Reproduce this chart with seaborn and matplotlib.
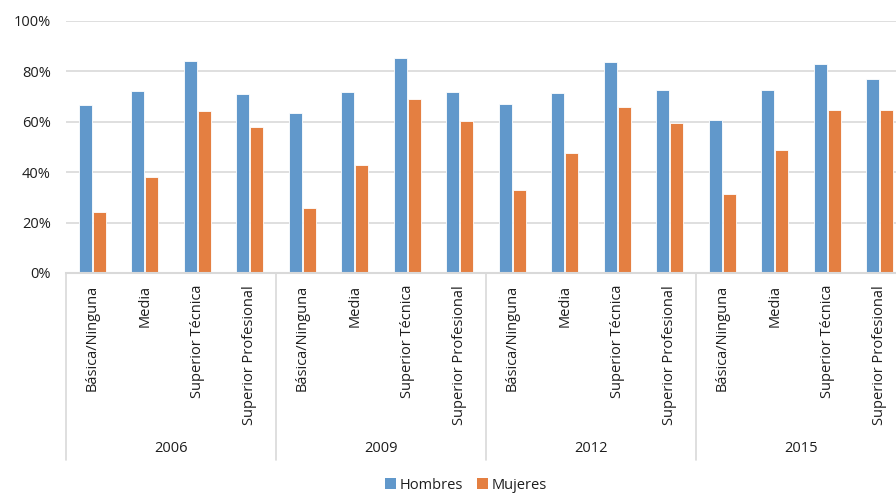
import matplotlib
matplotlib.use("Agg")
import matplotlib.pyplot as plt
import matplotlib.transforms as mtransforms
from matplotlib.patches import Patch
import seaborn as sns
import pandas as pd

years = ["2006", "2009", "2012", "2015"]
levels = ["Básica/Ninguna", "Media", "Superior Técnica", "Superior Profesional"]
hombres = [66.8, 72.2, 84.1, 71.2,
           63.3, 71.9, 85.3, 71.7,
           67.1, 71.5, 83.6, 72.7,
           60.6, 72.7, 83.1, 76.8]
mujeres = [24.4, 38.2, 64.1, 57.8,
           25.8, 43.0, 69.0, 60.4,
           32.9, 47.7, 65.7, 59.5,
           31.5, 48.7, 64.8, 64.5]
series = ["Hombres", "Mujeres"]
colors = ["#6198CB", "#E47F41"]

keys = [f"{y}|{l}" for y in years for l in levels]
df = pd.DataFrame({
    "grupo": keys * 2,
    "valor": hombres + mujeres,
    "sexo": [series[0]] * len(keys) + [series[1]] * len(keys),
})

sns.set_theme(style="white")
plt.rcParams["font.family"] = ["Open Sans", "DejaVu Sans"]
text_color = "#1E1E1E"
grid_color = "#D9D9D9"
fs = 10.5

fig = plt.figure(figsize=(8.96, 4.94), dpi=100)
ax = fig.add_axes([66 / 896, 221 / 494, 840 / 896, 252 / 494])

sns.barplot(data=df, x="grupo", y="valor", hue="sexo", order=keys,
            hue_order=series, palette=colors, saturation=1, width=0.53, gap=0.08,
            edgecolor="white", linewidth=0.6, legend=False, ax=ax)

ax.set_ylim(0, 100)
ax.set_xlim(-0.5, len(keys) - 0.5)
ax.set_yticks(range(0, 101, 20))
ax.set_yticklabels([f"{v}%" for v in range(0, 101, 20)], fontsize=fs, color=text_color)
ax.yaxis.grid(True, color=grid_color, linewidth=1.2)
ax.set_axisbelow(True)
for side in ["left", "right", "top"]:
    ax.spines[side].set_visible(False)
ax.spines["bottom"].set_color(grid_color)
ax.spines["bottom"].set_linewidth(1.5)
ax.tick_params(axis="y", length=0, pad=11)
ax.tick_params(axis="x", length=0, pad=8.6)
ax.set_xticks(range(len(keys)))
ax.set_xticklabels([k.split("|")[1] for k in keys], rotation=90,
                   fontsize=fs, color=text_color, ha="center", va="top")
ax.set_xlabel("")
ax.set_ylabel("")

trans = mtransforms.blended_transform_factory(ax.transData, ax.transAxes)
n = len(levels)
for i, y in enumerate(years):
    center = i * n + (n - 1) / 2
    ax.text(center, -0.698, y, transform=trans, ha="center", va="center",
            fontsize=fs, color=text_color)
for i in range(len(years) + 1):
    xb = i * n - 0.5
    ax.plot([xb, xb], [0, -0.742], transform=trans, color=grid_color,
            linewidth=1.2, clip_on=False)

handles = [Patch(facecolor=c, edgecolor="none") for c in colors]
fig.legend(handles, series, loc="center", bbox_to_anchor=(466 / 896, 9 / 494),
           ncol=2, frameon=False, fontsize=fs, handlelength=0.75,
           handleheight=0.75, handletextpad=0.25, columnspacing=1.0,
           labelcolor=text_color)

fig.savefig("out.png", dpi=100)
